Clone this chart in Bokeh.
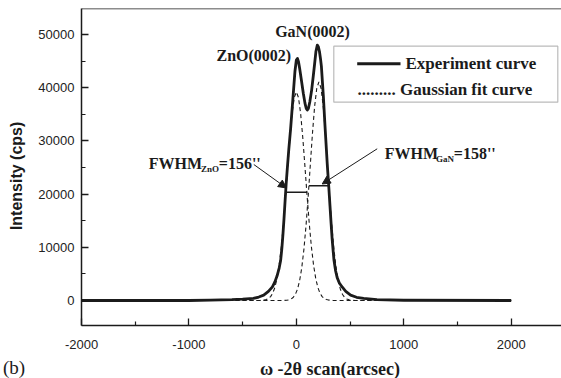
from bokeh.plotting import figure
from bokeh.layouts import column
from bokeh.models import (Range1d, FixedTicker, Label, Arrow, NormalHead,
                          BoxAnnotation, Span, Div)
from bokeh.embed import file_html
from bokeh.resources import INLINE

# ---------------- data ----------------
# experiment curve (solid)
exp_x = [-2000, -1000, -800, -600, -500, -400, -350, -304, -260, -223, -200, -180, -160,
         -146, -135, -125, -115, -105, -95, -84, -70, -53, -32, -13, 0, 10, 20, 30, 47,
         65, 80, 92, 102, 112, 125, 142, 158, 170, 182, 195, 205, 215, 225, 233, 251,
         266, 288, 303, 313, 323, 333, 343, 350, 365, 380, 400, 428, 460, 505, 560,
         626, 750, 1000, 2000]
exp_y = [0, 0, 60, 150, 250, 400, 650, 1000, 1700, 2560, 3500, 4600, 6100,
         7580, 9800, 12400, 15400, 18700, 21900, 24900, 28500, 32400, 38000, 43100, 45200, 45500, 44900, 43700, 41400,
         38900, 37100, 36100, 35800, 36100, 37300, 39500, 42300, 44500, 46800, 48000, 47700, 46800, 45400, 44000, 38500,
         33000, 25500, 21000, 17800, 14600, 11600, 9200, 7600, 5600, 4300, 3300, 2500, 1700, 1000, 600,
         380, 150, 50, 0]

# Gaussian fit, ZnO(0002) component (dashed)
zno_x = [-2000, -400, -340, -300, -280, -260, -240, -220, -200, -180, -160, -140, -120,
         -100, -80, -60, -40, -20, 0, 20, 40, 60, 80, 100, 120, 140, 160, 180, 200,
         220, 240, 260, 280, 300, 340, 400, 2000]
zno_y = [0, 0, 13, 77, 172, 365, 730, 1380, 2460, 4160, 6670, 10100, 14470,
         19620, 25170, 30560, 35090, 38130, 39200, 38130, 35090, 30560, 25170, 19620, 14470, 10100, 6670, 4160, 2460,
         1380, 730, 365, 172, 77, 13, 0, 0]

# Gaussian fit, GaN(0002) component (dashed)
gan_x = [-2000, -190, -130, -90, -70, -50, -30, -10, 10, 30, 50, 70, 90, 110, 130, 150,
         170, 190, 210, 230, 250, 270, 290, 310, 330, 350, 370, 390, 410, 430, 450, 470,
         490, 510, 550, 610, 2000]
gan_y = [0, 0, 8, 51, 121, 270, 570, 1120, 2100, 3690, 6120, 9570, 14090, 19540, 25540, 31450,
         36490, 39900, 41100, 39900, 36490, 31450, 25540, 19540, 14090, 9570, 6120, 3690, 2100, 1120, 570, 270,
         121, 51, 8, 0, 0]

# FWHM markers
fwhm_zno_x = [-99, 102]
fwhm_zno_level = [20330, 20330]
fwhm_gan_x = [117, 303]
fwhm_gan_level = [21580, 21580]

# ticks
x_ticks = [-2000, -1000, 0, 1000, 2000]
x_minor = [-1500, -500, 500, 1500]
x_labels = ["-2000", "-1000", "0", "1000", "2000"]
y_ticks = [0, 10000, 20000, 30000, 40000, 50000]
y_minor = [5000, 15000, 25000, 35000, 45000]
y_labels = ["0", "10000", "20000", "30000", "40000", "50000"]

assert len(exp_x) == len(exp_y)
assert len(zno_x) == len(zno_y)
assert len(gan_x) == len(gan_y)

# ---------------- layout ----------------
W, H = 561, 378
H_MAIN = 358                          # main figure; a 20 px strip below holds the x title
X0, X1 = -2000, 2468
Y0, Y1 = -4700, 54890
FL, FR, FT, FB = 81, 561, 8, 325      # frame edges (px)


def dx(px):
    return X0 + (px - FL) * (X1 - X0) / (FR - FL)


def dy(py):
    return Y0 + (FB - py) * (Y1 - Y0) / (FB - FT)


SANS = "Liberation Sans"
SERIF = "Liberation Serif"
INK = "#1b1b1b"

p = figure(width=W, height=H_MAIN, output_backend="svg", toolbar_location=None,
           x_range=Range1d(X0, X1), y_range=Range1d(Y0, Y1),
           min_border_left=FL, min_border_right=0, min_border_top=FT,
           min_border_bottom=H_MAIN - FB, margin=0)
p.outline_line_color = None
p.grid.visible = False
p.background_fill_color = "white"
p.border_fill_color = "white"

for ax, ticks, minor, labels in ((p.xaxis[0], x_ticks, x_minor, x_labels),
                                 (p.yaxis[0], y_ticks, y_minor, y_labels)):
    ax.ticker = FixedTicker(ticks=ticks, minor_ticks=minor)
    ax.major_label_overrides = {t: l for t, l in zip(ticks, labels)}
    ax.major_tick_in = 7
    ax.major_tick_out = 0
    ax.minor_tick_in = 4
    ax.minor_tick_out = 0
    ax.axis_line_width = 1.5
    ax.axis_line_color = INK
    ax.major_tick_line_width = 1.3
    ax.minor_tick_line_width = 1.2
    ax.major_tick_line_color = INK
    ax.minor_tick_line_color = INK
    ax.major_label_text_font = SANS
    ax.major_label_text_font_size = "13px"
    ax.major_label_text_color = "#222222"

p.xaxis[0].major_label_standoff = 14
p.yaxis[0].major_label_standoff = 7

yax = p.yaxis[0]
yax.axis_label = "Intensity (cps)" + "\u00a0" * 4
yax.axis_label_text_font = SANS
yax.axis_label_text_font_size = "16px"
yax.axis_label_text_font_style = "bold"
yax.axis_label_text_color = INK
yax.axis_label_standoff = 10

p.add_layout(Span(location=Y1, dimension="width", line_color=INK, line_width=1.5))

# curves
p.line(zno_x, zno_y, line_color=INK, line_width=1.1, line_dash="4 3")
p.line(gan_x, gan_y, line_color=INK, line_width=1.1, line_dash="4 3")
p.line(exp_x, exp_y, line_color=INK, line_width=2.8, line_join="round")

# FWHM bars
p.line(fwhm_zno_x, fwhm_zno_level, line_color=INK, line_width=1.5)
p.line(fwhm_gan_x, fwhm_gan_level, line_color=INK, line_width=1.5)


def lab(fig, x, y, text, size, bold=True, font=SERIF, align="left", baseline="alphabetic"):
    fig.add_layout(Label(x=x, y=y, text=text, text_font=font,
                         text_font_size=f"{size}px",
                         text_font_style="bold" if bold else "normal",
                         text_color=INK, text_align=align, text_baseline=baseline))


# peak labels
lab(p, dx(312), dy(31), "GaN(0002)", 16, align="center", baseline="middle")
lab(p, dx(253.3), dy(55), "ZnO(0002)", 16, align="center", baseline="middle")

# FWHM labels
lab(p, dx(148.3), dy(163.3), "FWHM", 16)
lab(p, dx(200.5), dy(168.3), "ZnO", 9)
lab(p, dx(218.3), dy(163.3), "=156''", 16)
lab(p, dx(384.3), dy(153.3), "FWHM", 16)
lab(p, dx(435.5), dy(158.0), "GaN", 9)
lab(p, dx(453.3), dy(153.3), "=158''", 16)

# arrows
head = dict(size=8, fill_color=INK, line_color=INK, line_width=1)
p.add_layout(Arrow(end=NormalHead(**head), x_start=dx(253.3), y_start=dy(164),
                   x_end=dx(286), y_end=dy(187.5), line_color=INK, line_width=1))
p.add_layout(Arrow(end=NormalHead(**head), x_start=dx(376.7), y_start=dy(148.3),
                   x_end=dx(321.7), y_end=dy(183.5), line_color=INK, line_width=1))

# legend box
p.add_layout(BoxAnnotation(left=dx(333.3), right=dx(557.3), top=dy(45.7), bottom=dy(101.7),
                           fill_color="white", fill_alpha=1, line_color=INK, line_width=1.2))
p.add_layout(Arrow(start=None, end=None, x_start=dx(356.7), x_end=dx(400), y_start=dy(63.3),
                   y_end=dy(63.3), line_color=INK, line_width=3))
lab(p, dx(405), dy(63.3), "Experiment curve", 17, baseline="middle")
lab(p, dx(357), dy(89.3), "......... Gaussian fit curve", 17, baseline="middle")

# strip below the plot: panel tag and x-axis title
span_common = ("position:absolute;white-space:nowrap;color:%s;font-family:'Liberation Serif',serif;" % INK)
strip_html = (
    '<div style="position:relative;width:%dpx;height:%dpx;margin:0;padding:0;">' % (W, H - H_MAIN)
    + '<span style="%sleft:3px;top:0px;font-size:19px;line-height:19px;font-weight:normal;">(b)</span>'
    % span_common
    + '<span style="%sleft:230px;width:200px;text-align:center;top:2px;font-size:18px;'
      'line-height:18px;font-weight:bold;">\u03c9 -2\u03b8 scan(arcsec)</span>' % span_common
    + '</div>')
strip = Div(text=strip_html, width=W, height=H - H_MAIN, margin=0,
            styles={"margin": "0", "padding": "0", "overflow": "visible"})

layout = column(p, strip, spacing=0)
open("out.html", "w").write(file_html(layout, INLINE))
